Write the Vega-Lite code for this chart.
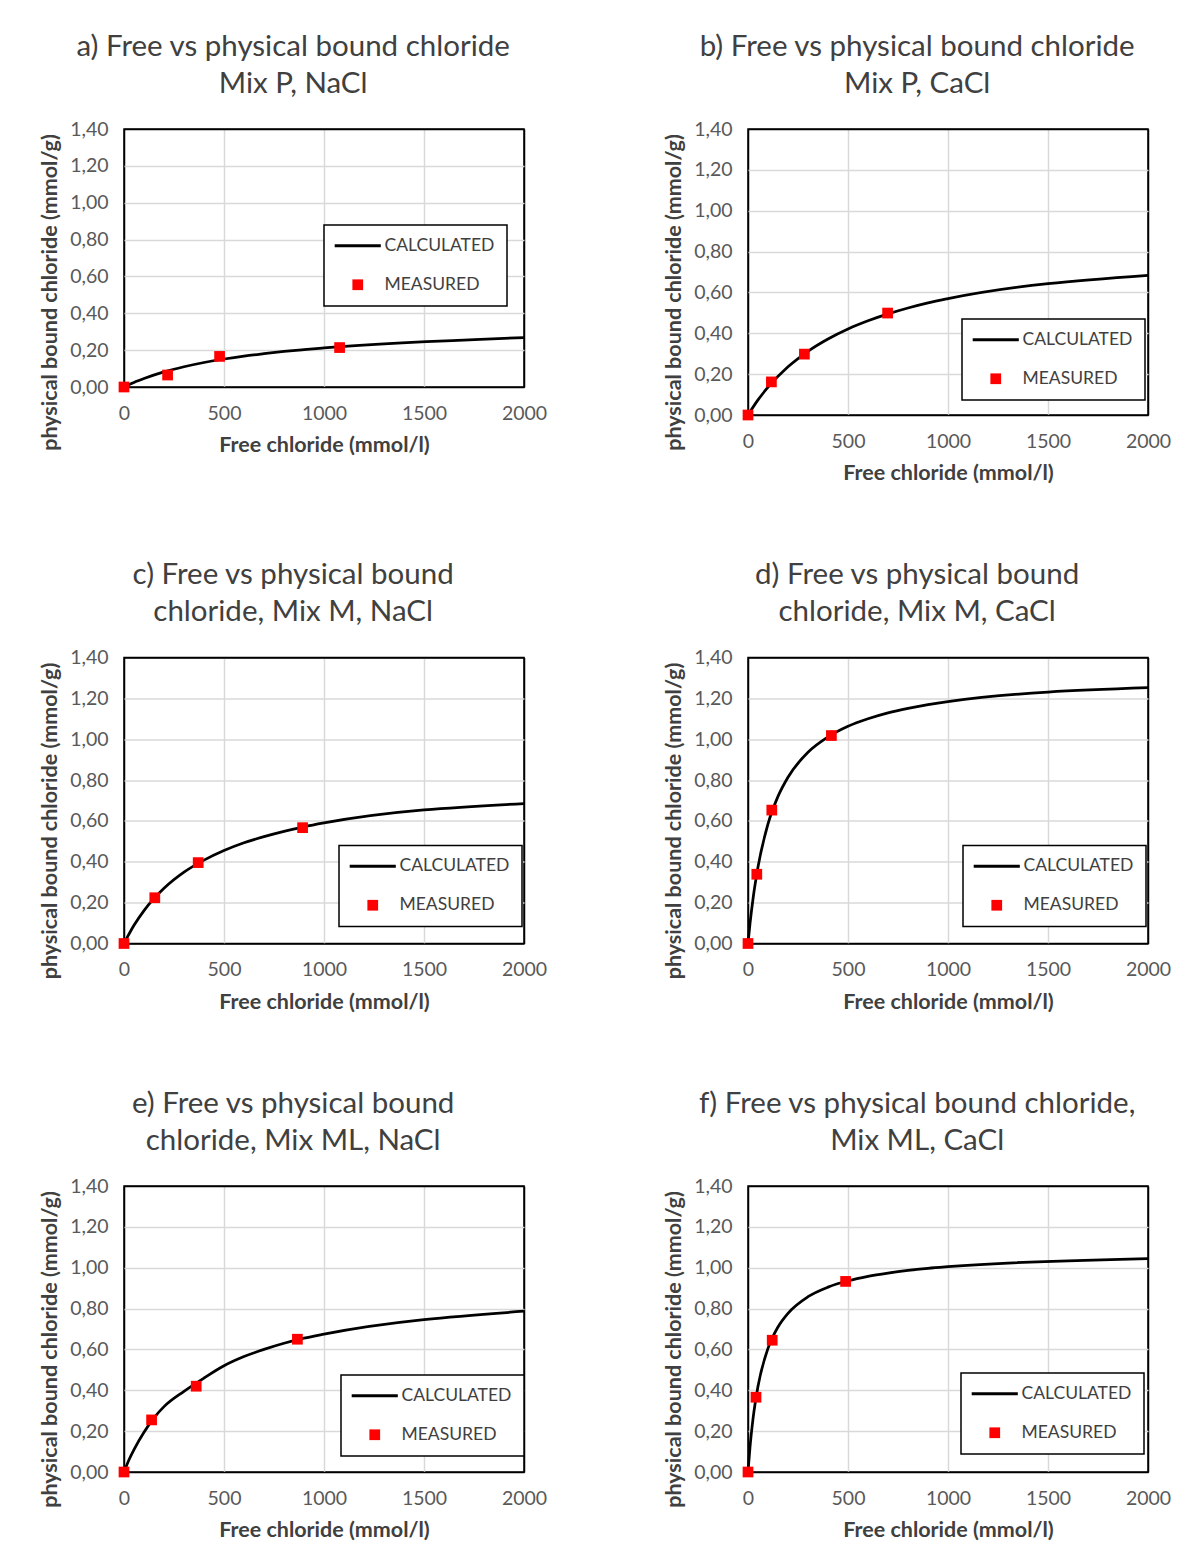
{
  "$schema": "https://vega.github.io/schema/vega-lite/v6.json",
  "background": "white",
  "padding": {"left": 38, "top": 30, "right": 0, "bottom": 0},
  "data": {"values": [
    {"panel":"a","series":"CALCULATED","x":0,"y":0},
    {"panel":"a","series":"CALCULATED","x":50,"y":0.025},
    {"panel":"a","series":"CALCULATED","x":100,"y":0.046},
    {"panel":"a","series":"CALCULATED","x":200,"y":0.082},
    {"panel":"a","series":"CALCULATED","x":300,"y":0.11},
    {"panel":"a","series":"CALCULATED","x":400,"y":0.133},
    {"panel":"a","series":"CALCULATED","x":500,"y":0.152},
    {"panel":"a","series":"CALCULATED","x":600,"y":0.168},
    {"panel":"a","series":"CALCULATED","x":700,"y":0.181},
    {"panel":"a","series":"CALCULATED","x":800,"y":0.193},
    {"panel":"a","series":"CALCULATED","x":900,"y":0.203},
    {"panel":"a","series":"CALCULATED","x":1000,"y":0.212},
    {"panel":"a","series":"CALCULATED","x":2000,"y":0.268},
    {"panel":"a","series":"MEASURED","x":0,"y":0},
    {"panel":"a","series":"MEASURED","x":218,"y":0.065},
    {"panel":"a","series":"MEASURED","x":478,"y":0.166},
    {"panel":"a","series":"MEASURED","x":1078,"y":0.214},

    {"panel":"b","series":"CALCULATED","x":0,"y":0},
    {"panel":"b","series":"CALCULATED","x":50,"y":0.074},
    {"panel":"b","series":"CALCULATED","x":100,"y":0.136},
    {"panel":"b","series":"CALCULATED","x":200,"y":0.236},
    {"panel":"b","series":"CALCULATED","x":300,"y":0.312},
    {"panel":"b","series":"CALCULATED","x":400,"y":0.372},
    {"panel":"b","series":"CALCULATED","x":500,"y":0.421},
    {"panel":"b","series":"CALCULATED","x":600,"y":0.461},
    {"panel":"b","series":"CALCULATED","x":700,"y":0.495},
    {"panel":"b","series":"CALCULATED","x":800,"y":0.524},
    {"panel":"b","series":"CALCULATED","x":900,"y":0.549},
    {"panel":"b","series":"CALCULATED","x":1000,"y":0.570},
    {"panel":"b","series":"CALCULATED","x":2000,"y":0.684},
    {"panel":"b","series":"MEASURED","x":0,"y":0},
    {"panel":"b","series":"MEASURED","x":117,"y":0.162},
    {"panel":"b","series":"MEASURED","x":282,"y":0.298},
    {"panel":"b","series":"MEASURED","x":698,"y":0.499},

    {"panel":"c","series":"CALCULATED","x":0,"y":0},
    {"panel":"c","series":"CALCULATED","x":50,"y":0.089},
    {"panel":"c","series":"CALCULATED","x":100,"y":0.161},
    {"panel":"c","series":"CALCULATED","x":200,"y":0.27},
    {"panel":"c","series":"CALCULATED","x":300,"y":0.349},
    {"panel":"c","series":"CALCULATED","x":400,"y":0.408},
    {"panel":"c","series":"CALCULATED","x":500,"y":0.455},
    {"panel":"c","series":"CALCULATED","x":600,"y":0.493},
    {"panel":"c","series":"CALCULATED","x":700,"y":0.523},
    {"panel":"c","series":"CALCULATED","x":800,"y":0.549},
    {"panel":"c","series":"CALCULATED","x":900,"y":0.571},
    {"panel":"c","series":"CALCULATED","x":1000,"y":0.59},
    {"panel":"c","series":"CALCULATED","x":2000,"y":0.685},
    {"panel":"c","series":"MEASURED","x":0,"y":0},
    {"panel":"c","series":"MEASURED","x":154,"y":0.224},
    {"panel":"c","series":"MEASURED","x":371,"y":0.396},
    {"panel":"c","series":"MEASURED","x":893,"y":0.567},

    {"panel":"d","series":"CALCULATED","x":0,"y":0},
    {"panel":"d","series":"CALCULATED","x":10,"y":0.097},
    {"panel":"d","series":"CALCULATED","x":25,"y":0.218},
    {"panel":"d","series":"CALCULATED","x":50,"y":0.374},
    {"panel":"d","series":"CALCULATED","x":100,"y":0.585},
    {"panel":"d","series":"CALCULATED","x":150,"y":0.72},
    {"panel":"d","series":"CALCULATED","x":200,"y":0.814},
    {"panel":"d","series":"CALCULATED","x":300,"y":0.936},
    {"panel":"d","series":"CALCULATED","x":400,"y":1.011},
    {"panel":"d","series":"CALCULATED","x":500,"y":1.063},
    {"panel":"d","series":"CALCULATED","x":600,"y":1.1},
    {"panel":"d","series":"CALCULATED","x":700,"y":1.129},
    {"panel":"d","series":"CALCULATED","x":800,"y":1.151},
    {"panel":"d","series":"CALCULATED","x":900,"y":1.169},
    {"panel":"d","series":"CALCULATED","x":1000,"y":1.184},
    {"panel":"d","series":"CALCULATED","x":2000,"y":1.252},
    {"panel":"d","series":"MEASURED","x":0,"y":0},
    {"panel":"d","series":"MEASURED","x":44,"y":0.339},
    {"panel":"d","series":"MEASURED","x":119,"y":0.653},
    {"panel":"d","series":"MEASURED","x":417,"y":1.018},

    {"panel":"e","series":"CALCULATED","x":0,"y":0},
    {"panel":"e","series":"CALCULATED","x":25,"y":0.06},
    {"panel":"e","series":"CALCULATED","x":50,"y":0.11},
    {"panel":"e","series":"CALCULATED","x":100,"y":0.195},
    {"panel":"e","series":"CALCULATED","x":150,"y":0.265},
    {"panel":"e","series":"CALCULATED","x":200,"y":0.32},
    {"panel":"e","series":"CALCULATED","x":300,"y":0.395},
    {"panel":"e","series":"CALCULATED","x":400,"y":0.46},
    {"panel":"e","series":"CALCULATED","x":500,"y":0.52},
    {"panel":"e","series":"CALCULATED","x":600,"y":0.565},
    {"panel":"e","series":"CALCULATED","x":700,"y":0.6},
    {"panel":"e","series":"CALCULATED","x":800,"y":0.63},
    {"panel":"e","series":"CALCULATED","x":900,"y":0.655},
    {"panel":"e","series":"CALCULATED","x":1000,"y":0.675},
    {"panel":"e","series":"CALCULATED","x":2000,"y":0.787},
    {"panel":"e","series":"MEASURED","x":0,"y":0},
    {"panel":"e","series":"MEASURED","x":138,"y":0.255},
    {"panel":"e","series":"MEASURED","x":361,"y":0.42},
    {"panel":"e","series":"MEASURED","x":867,"y":0.65},

    {"panel":"f","series":"CALCULATED","x":0,"y":0},
    {"panel":"f","series":"CALCULATED","x":10,"y":0.122},
    {"panel":"f","series":"CALCULATED","x":25,"y":0.26},
    {"panel":"f","series":"CALCULATED","x":50,"y":0.42},
    {"panel":"f","series":"CALCULATED","x":100,"y":0.605},
    {"panel":"f","series":"CALCULATED","x":150,"y":0.71},
    {"panel":"f","series":"CALCULATED","x":200,"y":0.777},
    {"panel":"f","series":"CALCULATED","x":300,"y":0.858},
    {"panel":"f","series":"CALCULATED","x":400,"y":0.905},
    {"panel":"f","series":"CALCULATED","x":500,"y":0.936},
    {"panel":"f","series":"CALCULATED","x":600,"y":0.958},
    {"panel":"f","series":"CALCULATED","x":700,"y":0.974},
    {"panel":"f","series":"CALCULATED","x":800,"y":0.987},
    {"panel":"f","series":"CALCULATED","x":900,"y":0.997},
    {"panel":"f","series":"CALCULATED","x":1000,"y":1.005},
    {"panel":"f","series":"CALCULATED","x":2000,"y":1.045},
    {"panel":"f","series":"MEASURED","x":0,"y":0},
    {"panel":"f","series":"MEASURED","x":40,"y":0.366},
    {"panel":"f","series":"MEASURED","x":121,"y":0.645},
    {"panel":"f","series":"MEASURED","x":488,"y":0.933}
  ]},
  "columns": 2,
  "spacing": {"row": 242.5, "column": 224},
  "bounds": "flush",
  "resolve": {"legend": {"color": "independent", "shape": "independent"}},
  "concat": [
    {
      "width": 400, "height": 258,
      "title": {"text": ["a) Free vs physical bound chloride", "Mix P, NaCl"]},
      "transform": [{"filter": "datum.panel === 'a'"}],
      "encoding": {
        "x": {"field": "x", "type": "quantitative", "scale": {"domain": [0, 2000], "nice": false}, "axis": {"values": [0, 500, 1000, 1500, 2000], "format": "d", "title": "Free chloride (mmol/l)", "labelPadding": 17, "titlePadding": 12, "gridColor": {"condition": {"test": "datum.value === 0 || datum.value === 2000", "value": "black"}, "value": "#d9d9d9"}}},
        "y": {"field": "y", "type": "quantitative", "scale": {"domain": [0, 1.4], "nice": false}, "axis": {"values": [0, 0.2, 0.4, 0.6, 0.8, 1.0, 1.2, 1.4], "labelExpr": "replace(format(datum.value, '.2f'), '.', ',')", "title": "physical bound chloride (mmol/g)", "labelPadding": 16, "titlePadding": 8, "titleY": 163, "gridColor": {"condition": {"test": "datum.value === 0 || datum.value > 1.39", "value": "black"}, "value": "#d9d9d9"}}}
      },
      "layer": [
        {"transform": [{"filter": "datum.series === 'CALCULATED'"}], "mark": {"type": "line", "color": "black", "strokeWidth": 2.75, "interpolate": "monotone"}},
        {"transform": [{"filter": "datum.series === 'MEASURED'"}], "mark": {"type": "point", "filled": true, "opacity": 1, "size": 115},
         "encoding": {
           "color": {"field": "series", "type": "nominal", "scale": {"domain": ["CALCULATED", "MEASURED"], "range": ["black", "red"]}, "legend": {"orient": "none", "legendX": 200, "legendY": 96}},
           "shape": {"field": "series", "type": "nominal", "scale": {"domain": ["CALCULATED", "MEASURED"], "range": ["M-4.3,-0.28L4.3,-0.28L4.3,0.28L-4.3,0.28Z", "square"]}, "legend": {"orient": "none", "legendX": 200, "legendY": 96}}
         }}
      ]
    },
    {
      "width": 400, "height": 286,
      "title": {"text": ["b) Free vs physical bound chloride", "Mix P, CaCl"]},
      "transform": [{"filter": "datum.panel === 'b'"}],
      "encoding": {
        "x": {"field": "x", "type": "quantitative", "scale": {"domain": [0, 2000], "nice": false}, "axis": {"values": [0, 500, 1000, 1500, 2000], "format": "d", "title": "Free chloride (mmol/l)", "labelPadding": 17, "titlePadding": 12, "gridColor": {"condition": {"test": "datum.value === 0 || datum.value === 2000", "value": "black"}, "value": "#d9d9d9"}}},
        "y": {"field": "y", "type": "quantitative", "scale": {"domain": [0, 1.4], "nice": false}, "axis": {"values": [0, 0.2, 0.4, 0.6, 0.8, 1.0, 1.2, 1.4], "labelExpr": "replace(format(datum.value, '.2f'), '.', ',')", "title": "physical bound chloride (mmol/g)", "labelPadding": 16, "titlePadding": 8, "titleY": 163, "gridColor": {"condition": {"test": "datum.value === 0 || datum.value > 1.39", "value": "black"}, "value": "#d9d9d9"}}}
      },
      "layer": [
        {"transform": [{"filter": "datum.series === 'CALCULATED'"}], "mark": {"type": "line", "color": "black", "strokeWidth": 2.75, "interpolate": "monotone"}},
        {"transform": [{"filter": "datum.series === 'MEASURED'"}], "mark": {"type": "point", "filled": true, "opacity": 1, "size": 115},
         "encoding": {
           "color": {"field": "series", "type": "nominal", "scale": {"domain": ["CALCULATED", "MEASURED"], "range": ["black", "red"]}, "legend": {"orient": "none", "legendX": 214, "legendY": 190}},
           "shape": {"field": "series", "type": "nominal", "scale": {"domain": ["CALCULATED", "MEASURED"], "range": ["M-4.3,-0.28L4.3,-0.28L4.3,0.28L-4.3,0.28Z", "square"]}, "legend": {"orient": "none", "legendX": 214, "legendY": 190}}
         }}
      ]
    },
    {
      "width": 400, "height": 286,
      "title": {"text": ["c) Free vs physical bound", "chloride, Mix M, NaCl"]},
      "transform": [{"filter": "datum.panel === 'c'"}],
      "encoding": {
        "x": {"field": "x", "type": "quantitative", "scale": {"domain": [0, 2000], "nice": false}, "axis": {"values": [0, 500, 1000, 1500, 2000], "format": "d", "title": "Free chloride (mmol/l)", "labelPadding": 17, "titlePadding": 12, "gridColor": {"condition": {"test": "datum.value === 0 || datum.value === 2000", "value": "black"}, "value": "#d9d9d9"}}},
        "y": {"field": "y", "type": "quantitative", "scale": {"domain": [0, 1.4], "nice": false}, "axis": {"values": [0, 0.2, 0.4, 0.6, 0.8, 1.0, 1.2, 1.4], "labelExpr": "replace(format(datum.value, '.2f'), '.', ',')", "title": "physical bound chloride (mmol/g)", "labelPadding": 16, "titlePadding": 8, "titleY": 163, "gridColor": {"condition": {"test": "datum.value === 0 || datum.value > 1.39", "value": "black"}, "value": "#d9d9d9"}}}
      },
      "layer": [
        {"transform": [{"filter": "datum.series === 'CALCULATED'"}], "mark": {"type": "line", "color": "black", "strokeWidth": 2.75, "interpolate": "monotone"}},
        {"transform": [{"filter": "datum.series === 'MEASURED'"}], "mark": {"type": "point", "filled": true, "opacity": 1, "size": 115},
         "encoding": {
           "color": {"field": "series", "type": "nominal", "scale": {"domain": ["CALCULATED", "MEASURED"], "range": ["black", "red"]}, "legend": {"orient": "none", "legendX": 215, "legendY": 188}},
           "shape": {"field": "series", "type": "nominal", "scale": {"domain": ["CALCULATED", "MEASURED"], "range": ["M-4.3,-0.28L4.3,-0.28L4.3,0.28L-4.3,0.28Z", "square"]}, "legend": {"orient": "none", "legendX": 215, "legendY": 188}}
         }}
      ]
    },
    {
      "width": 400, "height": 286,
      "title": {"text": ["d) Free vs physical bound", "chloride, Mix M, CaCl"]},
      "transform": [{"filter": "datum.panel === 'd'"}],
      "encoding": {
        "x": {"field": "x", "type": "quantitative", "scale": {"domain": [0, 2000], "nice": false}, "axis": {"values": [0, 500, 1000, 1500, 2000], "format": "d", "title": "Free chloride (mmol/l)", "labelPadding": 17, "titlePadding": 12, "gridColor": {"condition": {"test": "datum.value === 0 || datum.value === 2000", "value": "black"}, "value": "#d9d9d9"}}},
        "y": {"field": "y", "type": "quantitative", "scale": {"domain": [0, 1.4], "nice": false}, "axis": {"values": [0, 0.2, 0.4, 0.6, 0.8, 1.0, 1.2, 1.4], "labelExpr": "replace(format(datum.value, '.2f'), '.', ',')", "title": "physical bound chloride (mmol/g)", "labelPadding": 16, "titlePadding": 8, "titleY": 163, "gridColor": {"condition": {"test": "datum.value === 0 || datum.value > 1.39", "value": "black"}, "value": "#d9d9d9"}}}
      },
      "layer": [
        {"transform": [{"filter": "datum.series === 'CALCULATED'"}], "mark": {"type": "line", "color": "black", "strokeWidth": 2.75, "interpolate": "monotone"}},
        {"transform": [{"filter": "datum.series === 'MEASURED'"}], "mark": {"type": "point", "filled": true, "opacity": 1, "size": 115},
         "encoding": {
           "color": {"field": "series", "type": "nominal", "scale": {"domain": ["CALCULATED", "MEASURED"], "range": ["black", "red"]}, "legend": {"orient": "none", "legendX": 215, "legendY": 188}},
           "shape": {"field": "series", "type": "nominal", "scale": {"domain": ["CALCULATED", "MEASURED"], "range": ["M-4.3,-0.28L4.3,-0.28L4.3,0.28L-4.3,0.28Z", "square"]}, "legend": {"orient": "none", "legendX": 215, "legendY": 188}}
         }}
      ]
    },
    {
      "width": 400, "height": 286,
      "title": {"text": ["e) Free vs physical bound", "chloride, Mix ML, NaCl"]},
      "transform": [{"filter": "datum.panel === 'e'"}],
      "encoding": {
        "x": {"field": "x", "type": "quantitative", "scale": {"domain": [0, 2000], "nice": false}, "axis": {"values": [0, 500, 1000, 1500, 2000], "format": "d", "title": "Free chloride (mmol/l)", "labelPadding": 17, "titlePadding": 12, "gridColor": {"condition": {"test": "datum.value === 0 || datum.value === 2000", "value": "black"}, "value": "#d9d9d9"}}},
        "y": {"field": "y", "type": "quantitative", "scale": {"domain": [0, 1.4], "nice": false}, "axis": {"values": [0, 0.2, 0.4, 0.6, 0.8, 1.0, 1.2, 1.4], "labelExpr": "replace(format(datum.value, '.2f'), '.', ',')", "title": "physical bound chloride (mmol/g)", "labelPadding": 16, "titlePadding": 8, "titleY": 163, "gridColor": {"condition": {"test": "datum.value === 0 || datum.value > 1.39", "value": "black"}, "value": "#d9d9d9"}}}
      },
      "layer": [
        {"transform": [{"filter": "datum.series === 'CALCULATED'"}], "mark": {"type": "line", "color": "black", "strokeWidth": 2.75, "interpolate": "monotone"}},
        {"transform": [{"filter": "datum.series === 'MEASURED'"}], "mark": {"type": "point", "filled": true, "opacity": 1, "size": 115},
         "encoding": {
           "color": {"field": "series", "type": "nominal", "scale": {"domain": ["CALCULATED", "MEASURED"], "range": ["black", "red"]}, "legend": {"orient": "none", "legendX": 217, "legendY": 189}},
           "shape": {"field": "series", "type": "nominal", "scale": {"domain": ["CALCULATED", "MEASURED"], "range": ["M-4.3,-0.28L4.3,-0.28L4.3,0.28L-4.3,0.28Z", "square"]}, "legend": {"orient": "none", "legendX": 217, "legendY": 189}}
         }}
      ]
    },
    {
      "width": 400, "height": 286,
      "title": {"text": ["f) Free vs physical bound chloride,", "Mix ML, CaCl"]},
      "transform": [{"filter": "datum.panel === 'f'"}],
      "encoding": {
        "x": {"field": "x", "type": "quantitative", "scale": {"domain": [0, 2000], "nice": false}, "axis": {"values": [0, 500, 1000, 1500, 2000], "format": "d", "title": "Free chloride (mmol/l)", "labelPadding": 17, "titlePadding": 12, "gridColor": {"condition": {"test": "datum.value === 0 || datum.value === 2000", "value": "black"}, "value": "#d9d9d9"}}},
        "y": {"field": "y", "type": "quantitative", "scale": {"domain": [0, 1.4], "nice": false}, "axis": {"values": [0, 0.2, 0.4, 0.6, 0.8, 1.0, 1.2, 1.4], "labelExpr": "replace(format(datum.value, '.2f'), '.', ',')", "title": "physical bound chloride (mmol/g)", "labelPadding": 16, "titlePadding": 8, "titleY": 163, "gridColor": {"condition": {"test": "datum.value === 0 || datum.value > 1.39", "value": "black"}, "value": "#d9d9d9"}}}
      },
      "layer": [
        {"transform": [{"filter": "datum.series === 'CALCULATED'"}], "mark": {"type": "line", "color": "black", "strokeWidth": 2.75, "interpolate": "monotone"}},
        {"transform": [{"filter": "datum.series === 'MEASURED'"}], "mark": {"type": "point", "filled": true, "opacity": 1, "size": 115},
         "encoding": {
           "color": {"field": "series", "type": "nominal", "scale": {"domain": ["CALCULATED", "MEASURED"], "range": ["black", "red"]}, "legend": {"orient": "none", "legendX": 213, "legendY": 187}},
           "shape": {"field": "series", "type": "nominal", "scale": {"domain": ["CALCULATED", "MEASURED"], "range": ["M-4.3,-0.28L4.3,-0.28L4.3,0.28L-4.3,0.28Z", "square"]}, "legend": {"orient": "none", "legendX": 213, "legendY": 187}}
         }}
      ]
    }
  ],
  "config": {
    "font": "Lato",
    "view": {"stroke": "black", "strokeWidth": 1.5},
    "axis": {"grid": true, "gridColor": "#d9d9d9", "gridWidth": 1.5, "domain": false, "ticks": false, "labelFlush": false, "labelOverlap": false, "labelFont": "Lato", "labelFontSize": 19.5, "labelColor": "#595959", "titleFont": "Lato", "titleFontSize": 21.5, "titleFontWeight": "bold", "titleColor": "#404040"},
    "title": {"font": "Lato", "fontSize": 29.5, "fontWeight": "normal", "color": "#404040", "frame": "bounds", "anchor": "middle", "lineHeight": 37, "offset": 20},
    "legend": {"title": null, "strokeColor": "black", "strokeWidth": 1.5, "fillColor": "white", "padding": 12, "labelFont": "Lato", "labelFontSize": 17.5, "labelColor": "#404040", "rowPadding": 20, "symbolOffset": 13, "labelOffset": 18, "symbolStrokeWidth": 0, "symbolSize": 115}
  }
}
